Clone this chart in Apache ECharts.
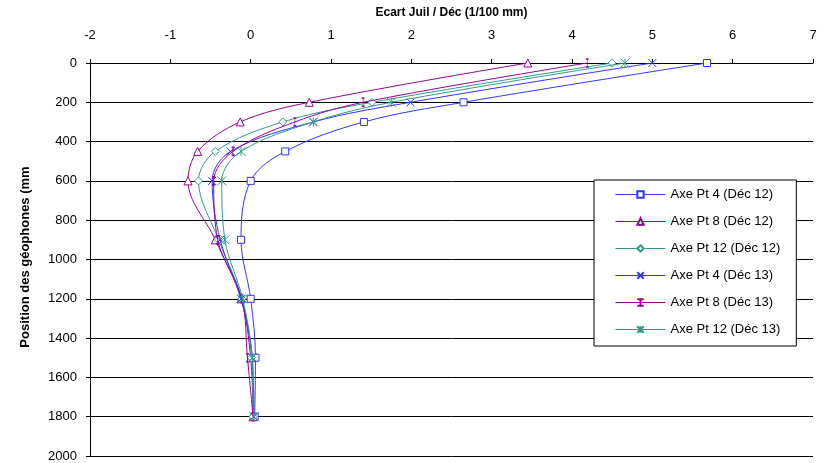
<!DOCTYPE html>
<html><head><meta charset="utf-8">
<script src="https://cdn.jsdelivr.net/npm/echarts@6/dist/echarts.min.js"></script>
<style>html,body{margin:0;padding:0;background:#fff}#c{width:825px;height:463px}</style>
</head><body><div id="c"></div>
<script>
// Depth of geophones (mm)
const depths = [0, 200, 300, 450, 600, 900, 1200, 1500, 1800];
// Ecart Juil / Déc (1/100 mm)
const pt4Dec12  = [5.68, 2.65, 1.41, 0.43, 0.00, -0.12, 0.00, 0.06, 0.05];
const pt8Dec12  = [3.45, 0.73, -0.13, -0.66, -0.78, -0.44, -0.12, 0.00, 0.03];
const pt12Dec12 = [4.50, 1.51, 0.40, -0.44, -0.65, -0.40, -0.11, 0.01, 0.03];
const pt4Dec13  = [5.00, 1.99, 0.78, -0.25, -0.48, -0.38, -0.12, 0.02, 0.04];
const pt8Dec13  = [4.19, 1.40, 0.55, -0.22, -0.46, -0.41, -0.11, -0.04, 0.03];
const pt12Dec13 = [4.66, 1.75, 0.78, -0.12, -0.36, -0.32, -0.10, 0.02, 0.04];
const seriesNames = ['Axe Pt 4 (Déc 12)', 'Axe Pt 8 (Déc 12)', 'Axe Pt 12 (Déc 12)',
                     'Axe Pt 4 (Déc 13)', 'Axe Pt 8 (Déc 13)', 'Axe Pt 12 (Déc 13)'];

const BLUE = '#3333ff', PURPLE = '#990099', TEAL = '#2f9a8c';
const styles = [
  {c: BLUE,   sym: 'rect',     size: 7},
  {c: PURPLE, sym: 'triangle', size: 8},
  {c: TEAL,   sym: 'diamond',  size: 8},
  {c: BLUE,   sym: 'path://M0,0L10,10M10,0L0,10', size: 8},
  {c: PURPLE, sym: 'path://M3,0L7,0M5,0L5,10M3,10L7,10', size: [3, 8]},
  {c: TEAL,   sym: 'path://M0,0L10,10M10,0L0,10M5,0L5,10', size: 9}
];
const allValues = [pt4Dec12, pt8Dec12, pt12Dec12, pt4Dec13, pt8Dec13, pt12Dec13];

const series = allValues.map((vals, i) => ({
  name: seriesNames[i],
  type: 'line',
  smooth: 0.35,
  data: vals.map((v, k) => [v, depths[k]]),
  symbol: styles[i].sym,
  symbolSize: styles[i].size,
  showAllSymbol: true,
  lineStyle: {color: styles[i].c, width: 1},
  itemStyle: {color: '#ffffff', borderColor: styles[i].c, borderWidth: 1},
  emphasis: {disabled: true},
  z: 3 + i
}));

const chart = echarts.init(document.getElementById('c'), null, {renderer: 'canvas'});
const FONT = 'Liberation Sans, Arial, sans-serif';
chart.setOption({
  animation: false,
  backgroundColor: '#ffffff',
  textStyle: {fontFamily: FONT},
  grid: {left: 90, right: 12, top: 63, bottom: 7, containLabel: false},
  xAxis: {
    type: 'value', position: 'top', min: -2, max: 7, interval: 1,
    name: 'Ecart Juil / Déc (1/100 mm)', nameLocation: 'middle', nameGap: 44,
    nameTextStyle: {fontFamily: FONT, fontWeight: 'bold', fontSize: 12, color: '#000'},
    axisLine: {show: true, onZero: false, lineStyle: {color: '#000', width: 1}},
    axisTick: {show: true, length: 4, lineStyle: {color: '#000'}},
    axisLabel: {fontFamily: FONT, fontSize: 13, color: '#000', margin: 21},
    splitLine: {show: false}
  },
  yAxis: {
    type: 'value', inverse: true, min: 0, max: 2000, interval: 200,
    axisLine: {show: true, onZero: false, lineStyle: {color: '#000', width: 1}},
    axisTick: {show: true, length: 4, lineStyle: {color: '#000'}},
    axisLabel: {fontFamily: FONT, fontSize: 13, color: '#000', margin: 13,
                formatter: v => String(v)},
    splitLine: {show: true, lineStyle: {color: '#000', width: 1}}
  },
  legend: {
    orient: 'vertical', left: 594, top: 180,
    backgroundColor: '#ffffff', borderColor: '#000', borderWidth: 1,
    padding: [8, 16, 10, 21],
    itemWidth: 50, itemHeight: 8, itemGap: 14,
    lineStyle: {width: 1},
    textStyle: {fontFamily: FONT, fontSize: 13, color: '#000'},
    data: seriesNames
  },
  graphic: [{
    type: 'text', x: 25, y: 257, rotation: Math.PI / 2,
    style: {text: 'Position des géophones (mm', font: 'bold 13px ' + FONT,
            fill: '#000', align: 'center', verticalAlign: 'middle'}
  }],
  series: series
});
</script></body></html>
